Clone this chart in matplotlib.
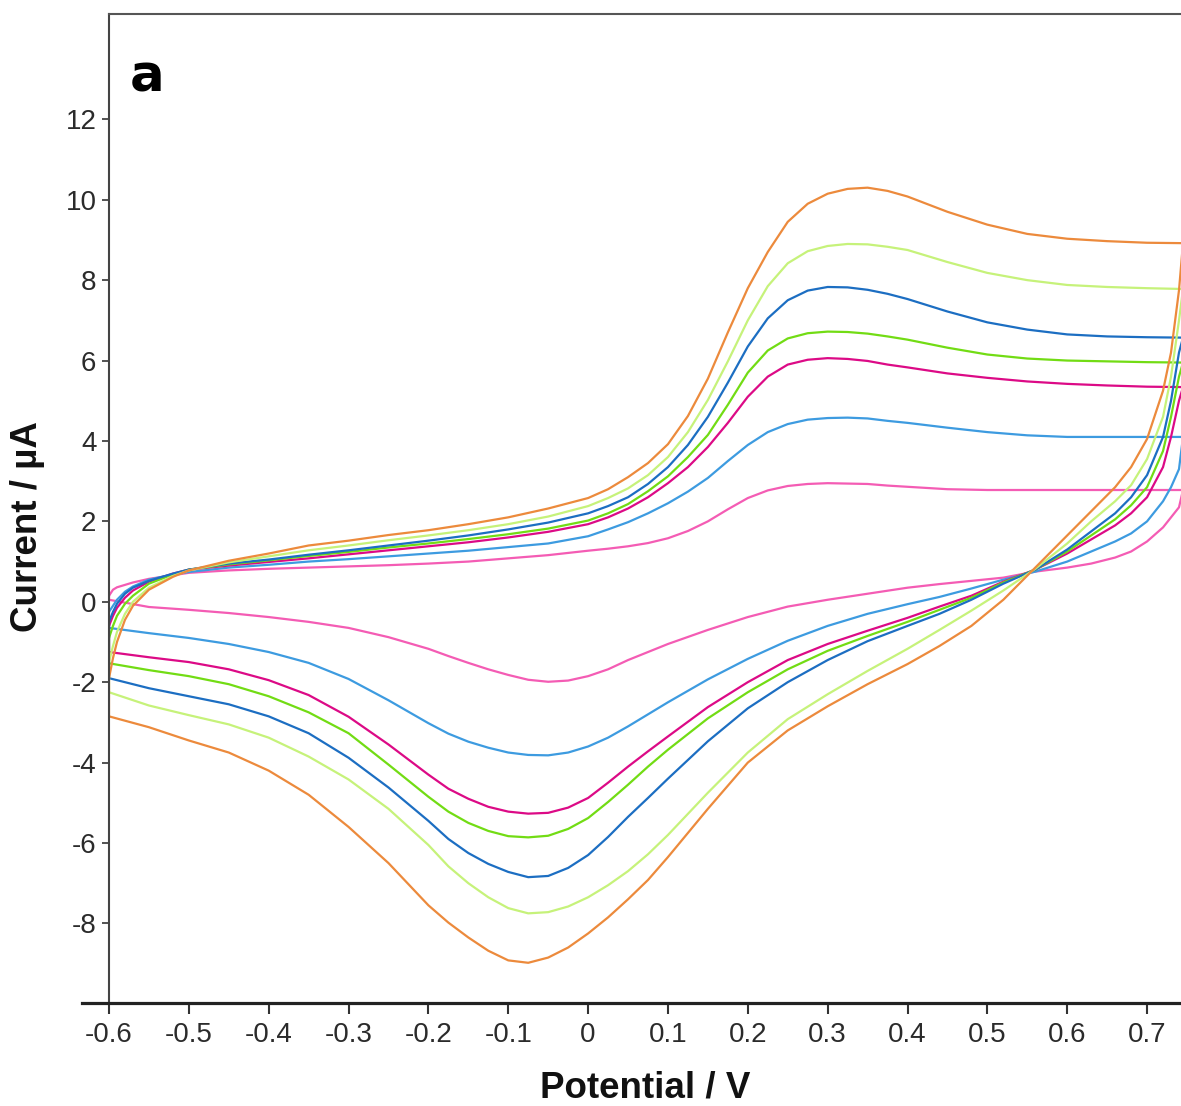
import matplotlib
matplotlib.use("Agg")
import matplotlib.pyplot as plt
import numpy as np

# ---------------- data ----------------
# forward (anodic) sweep potentials, V
fwd_v = [-0.6, -0.595, -0.59, -0.58, -0.57, -0.55, -0.52, -0.5, -0.45, -0.4,
         -0.35, -0.3, -0.25, -0.2, -0.15, -0.1, -0.05, 0.0, 0.025, 0.05,
         0.075, 0.1, 0.125, 0.15, 0.175, 0.2, 0.225, 0.25, 0.275, 0.3,
         0.325, 0.35, 0.375, 0.4, 0.45, 0.5, 0.55, 0.6, 0.65, 0.7, 0.745]
# reverse (cathodic) sweep potentials, V
rev_v = [0.745, 0.74, 0.73, 0.72, 0.7, 0.68, 0.66, 0.63, 0.6, 0.56,
         0.52, 0.48, 0.44, 0.4, 0.35, 0.3, 0.25, 0.2, 0.15, 0.1,
         0.075, 0.05, 0.025, 0.0, -0.025, -0.05, -0.075, -0.1, -0.125, -0.15,
         -0.175, -0.2, -0.25, -0.3, -0.35, -0.4, -0.45, -0.5, -0.55, -0.6]

# currents (uA), innermost curve first
pink_fwd = [0.15, 0.3, 0.36, 0.42, 0.48, 0.57, 0.66, 0.72, 0.78, 0.82,
            0.85, 0.88, 0.91, 0.95, 1.0, 1.08, 1.16, 1.27, 1.32, 1.38,
            1.46, 1.58, 1.76, 2.0, 2.3, 2.58, 2.77, 2.88, 2.93, 2.95,
            2.94, 2.93, 2.89, 2.86, 2.8, 2.78, 2.78, 2.78, 2.78, 2.78, 2.78]
pink_rev = [2.78, 2.35, 2.1, 1.85, 1.5, 1.25, 1.1, 0.95, 0.85, 0.75,
            0.6, 0.52, 0.44, 0.35, 0.2, 0.05, -0.12, -0.38, -0.7, -1.05,
            -1.25, -1.45, -1.68, -1.85, -1.96, -1.99, -1.94, -1.82, -1.68, -1.52,
            -1.35, -1.17, -0.88, -0.65, -0.5, -0.38, -0.28, -0.2, -0.13, 0.05]

lblue_fwd = [-0.25, -0.1, 0.05, 0.25, 0.38, 0.55, 0.68, 0.74, 0.85, 0.92,
             1.0, 1.06, 1.13, 1.2, 1.27, 1.36, 1.45, 1.63, 1.8, 1.98,
             2.2, 2.45, 2.74, 3.08, 3.5, 3.9, 4.22, 4.42, 4.53, 4.57,
             4.58, 4.56, 4.5, 4.45, 4.33, 4.22, 4.14, 4.1, 4.1, 4.1, 4.1]
lblue_rev = [4.1, 3.3, 2.85, 2.5, 2.0, 1.7, 1.5, 1.25, 1.0, 0.75,
             0.55, 0.33, 0.12, -0.06, -0.3, -0.6, -0.97, -1.42, -1.93, -2.5,
             -2.8, -3.1, -3.38, -3.6, -3.75, -3.82, -3.81, -3.75, -3.63, -3.48,
             -3.28, -3.02, -2.45, -1.92, -1.52, -1.25, -1.05, -0.9, -0.78, -0.65]

mag_fwd = [-0.6, -0.35, -0.15, 0.1, 0.28, 0.5, 0.7, 0.8, 0.9, 0.99,
           1.08, 1.18, 1.28, 1.38, 1.48, 1.6, 1.74, 1.93, 2.1, 2.32,
           2.6, 2.95, 3.35, 3.85, 4.45, 5.1, 5.6, 5.9, 6.02, 6.06,
           6.04, 5.99, 5.9, 5.83, 5.68, 5.57, 5.48, 5.42, 5.38, 5.35, 5.34]
mag_rev = [5.34, 5.0, 4.1, 3.35, 2.6, 2.2, 1.9, 1.55, 1.2, 0.8,
           0.5, 0.15, -0.12, -0.4, -0.72, -1.05, -1.45, -2.0, -2.62, -3.35,
           -3.72, -4.1, -4.5, -4.88, -5.12, -5.25, -5.27, -5.22, -5.1, -4.9,
           -4.65, -4.3, -3.55, -2.86, -2.32, -1.95, -1.68, -1.5, -1.38, -1.25]

green_fwd = [-0.9, -0.6, -0.35, -0.05, 0.15, 0.45, 0.68, 0.8, 0.93, 1.03,
             1.14, 1.24, 1.35, 1.45, 1.56, 1.68, 1.82, 2.02, 2.2, 2.43,
             2.75, 3.12, 3.6, 4.15, 4.9, 5.7, 6.25, 6.55, 6.68, 6.72,
             6.71, 6.67, 6.6, 6.52, 6.32, 6.15, 6.05, 6.0, 5.98, 5.96, 5.95]
green_rev = [5.95, 5.6, 4.6, 3.75, 2.85, 2.4, 2.05, 1.65, 1.25, 0.8,
             0.48, 0.1, -0.2, -0.5, -0.85, -1.22, -1.68, -2.25, -2.9, -3.68,
             -4.1, -4.55, -4.98, -5.38, -5.65, -5.82, -5.86, -5.83, -5.7, -5.5,
             -5.22, -4.85, -4.05, -3.27, -2.75, -2.35, -2.05, -1.85, -1.7, -1.53]

blue_fwd = [-0.5, -0.25, -0.05, 0.2, 0.35, 0.52, 0.7, 0.8, 0.95, 1.05,
            1.17, 1.28, 1.4, 1.52, 1.65, 1.8, 1.97, 2.2, 2.38, 2.6,
            2.93, 3.35, 3.9, 4.6, 5.45, 6.35, 7.05, 7.5, 7.74, 7.83,
            7.82, 7.76, 7.66, 7.53, 7.22, 6.95, 6.77, 6.65, 6.6, 6.58, 6.57]
blue_rev = [6.57, 6.2, 5.0, 4.1, 3.15, 2.6, 2.2, 1.75, 1.3, 0.8,
            0.45, 0.05, -0.3, -0.6, -0.98, -1.45, -2.0, -2.65, -3.47, -4.4,
            -4.88, -5.35, -5.85, -6.3, -6.62, -6.82, -6.85, -6.72, -6.52, -6.25,
            -5.9, -5.45, -4.62, -3.88, -3.27, -2.85, -2.55, -2.35, -2.15, -1.9]

yg_fwd = [-1.5, -1.1, -0.75, -0.3, 0.0, 0.35, 0.64, 0.78, 0.98, 1.13,
          1.28, 1.4, 1.53, 1.65, 1.78, 1.93, 2.12, 2.38, 2.58, 2.82,
          3.15, 3.6, 4.22, 5.02, 5.98, 7.0, 7.85, 8.42, 8.72, 8.85,
          8.9, 8.89, 8.83, 8.75, 8.45, 8.18, 8.0, 7.88, 7.83, 7.8, 7.78]
yg_rev = [7.78, 7.0, 5.6, 4.6, 3.55, 2.9, 2.5, 2.0, 1.45, 0.82,
          0.28, -0.22, -0.7, -1.17, -1.72, -2.3, -2.92, -3.75, -4.75, -5.8,
          -6.28, -6.7, -7.05, -7.35, -7.58, -7.72, -7.75, -7.62, -7.35, -7.0,
          -6.58, -6.05, -5.15, -4.42, -3.85, -3.38, -3.05, -2.82, -2.58, -2.25]

orange_fwd = [-1.9, -1.4, -1.0, -0.45, -0.1, 0.3, 0.62, 0.78, 1.02, 1.2,
              1.4, 1.52, 1.66, 1.78, 1.93, 2.1, 2.32, 2.58, 2.8, 3.1,
              3.45, 3.92, 4.62, 5.55, 6.7, 7.8, 8.7, 9.45, 9.9, 10.15,
              10.27, 10.3, 10.22, 10.08, 9.7, 9.38, 9.15, 9.03, 8.97, 8.93, 8.92]
orange_rev = [8.92, 7.75, 6.2, 5.25, 4.05, 3.35, 2.85, 2.25, 1.65, 0.85,
              0.05, -0.6, -1.1, -1.55, -2.05, -2.6, -3.2, -4.0, -5.15, -6.35,
              -6.92, -7.4, -7.85, -8.25, -8.6, -8.85, -8.98, -8.92, -8.68, -8.35,
              -7.98, -7.55, -6.5, -5.6, -4.8, -4.2, -3.75, -3.45, -3.12, -2.85]

series = [
    (pink_fwd, pink_rev, "#f45cb4"),
    (lblue_fwd, lblue_rev, "#3d9be0"),
    (mag_fwd, mag_rev, "#dc0a86"),
    (green_fwd, green_rev, "#72dc14"),
    (blue_fwd, blue_rev, "#1c6ec2"),
    (yg_fwd, yg_rev, "#c6f27a"),
    (orange_fwd, orange_rev, "#ec8a3c"),
]

x_ticks = [-0.6, -0.5, -0.4, -0.3, -0.2, -0.1, 0.0, 0.1, 0.2, 0.3, 0.4, 0.5, 0.6, 0.7]
x_ticklabels = ["-0.6", "-0.5", "-0.4", "-0.3", "-0.2", "-0.1", "0",
                "0.1", "0.2", "0.3", "0.4", "0.5", "0.6", "0.7"]
y_ticks = [-8, -6, -4, -2, 0, 2, 4, 6, 8, 10, 12]
y_ticklabels = ["-8", "-6", "-4", "-2", "0", "2", "4", "6", "8", "10", "12"]

# ---------------- figure ----------------
W, H = 1181, 1106
fig = plt.figure(figsize=(W / 100, H / 100), dpi=100)
ax_left, ax_right, ax_top, ax_bottom = 109, 1181, 14, 1003
ax = fig.add_axes([ax_left / W, (H - ax_bottom) / H,
                   (ax_right - ax_left) / W, (ax_bottom - ax_top) / H])

for fwd, rev, col in series:
    v = np.concatenate([fwd_v, rev_v])
    i = np.concatenate([fwd, rev])
    ax.plot(v, i, color=col, lw=1.6, solid_joinstyle="round")
    # close the loop at the negative vertex
    ax.plot([rev_v[-1], fwd_v[0]], [rev[-1], fwd[0]], color=col, lw=1.6)

ax.set_xlim(-0.6, 0.7425)
ax.set_ylim(-9.98, 14.62)

tick_font = dict(family=["Liberation Sans", "DejaVu Sans"], size=20, color="#2b2b2b")
ax.set_xticks(x_ticks)
ax.set_xticklabels(x_ticklabels, fontdict=tick_font)
ax.set_yticks(y_ticks)
ax.set_yticklabels(y_ticklabels, fontdict=tick_font)
ax.tick_params(axis="x", direction="out", length=8, width=1.5, color="#333333", pad=6)
ax.tick_params(axis="y", direction="out", length=5, width=1.3, color="#444444", pad=4)

ax.spines["right"].set_visible(False)
ax.spines["top"].set_color("#555555")
ax.spines["top"].set_linewidth(1.5)
ax.spines["left"].set_color("#444444")
ax.spines["left"].set_linewidth(1.5)
ax.spines["bottom"].set_color("#222222")
ax.spines["bottom"].set_linewidth(2.3)
ax.spines["bottom"].set_bounds(-0.634, 0.7425)

label_font = dict(family=["Liberation Sans", "DejaVu Sans"], weight="bold", size=26.5, color="#111111")
ax.set_xlabel("Potential / V", fontdict=label_font)
ax.xaxis.set_label_coords(0.5, -0.086)
ax.xaxis.label.set_va("center")
ax.set_ylabel("Current / µA", fontdict=label_font)
ax.yaxis.set_label_coords(-0.0756, 0.482)
ax.yaxis.label.set_va("center")

ax.text(0.0196, 0.922, "a", transform=ax.transAxes, ha="left", va="baseline",
        family="DejaVu Sans", weight="bold", size=37, color="black")

fig.savefig("out.png", dpi=100, facecolor="white")
